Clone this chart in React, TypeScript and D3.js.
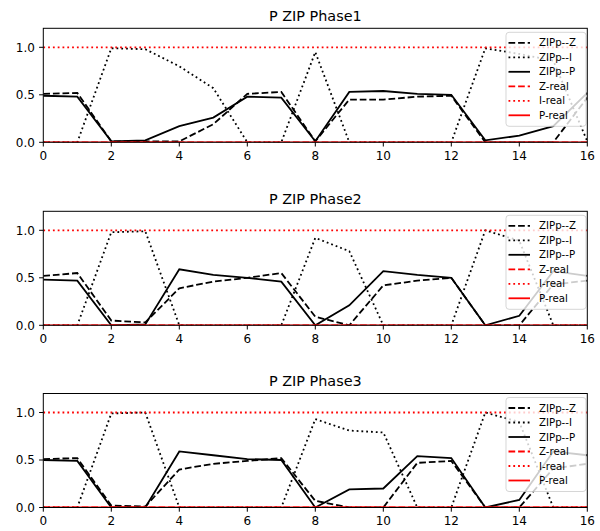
import * as d3 from "d3";

const steps = [0, 1, 2, 3, 4, 5, 6, 7, 8, 9, 10, 11, 12, 13, 14, 15, 16];
const xTicks = [0, 2, 4, 6, 8, 10, 12, 14, 16];
const yTicks = [0, 0.5, 1.0];
const titles = ["P ZIP Phase1", "P ZIP Phase2", "P ZIP Phase3"];
const legendLabels = ["ZIPp--Z", "ZIPp--I", "ZIPp--P", "Z-real", "I-real", "P-real"];

// estimated ZIP parameters per phase
const phase1Z = [0.51, 0.52, 0.01, 0.01, 0.01, 0.19, 0.51, 0.53, 0.01, 0.45, 0.45, 0.48, 0.49, 0.0, 0.0, 0.0, 0.47];
const phase1I = [0.0, 0.0, 0.99, 0.98, 0.8, 0.57, 0.0, 0.0, 0.95, 0.0, 0.0, 0.0, 0.0, 0.99, 0.93, 0.86, 0.01];
const phase1P = [0.49, 0.48, 0.01, 0.02, 0.17, 0.26, 0.48, 0.47, 0.01, 0.53, 0.54, 0.51, 0.5, 0.02, 0.07, 0.17, 0.52];

const phase2Z = [0.52, 0.55, 0.05, 0.03, 0.39, 0.46, 0.5, 0.55, 0.09, 0.0, 0.42, 0.47, 0.5, 0.0, 0.0, 0.43, 0.47];
const phase2I = [0.0, 0.0, 0.98, 0.99, 0.0, 0.0, 0.0, 0.0, 0.92, 0.78, 0.0, 0.0, 0.0, 1.0, 0.89, 0.0, 0.0];
const phase2P = [0.48, 0.47, 0.0, 0.01, 0.59, 0.53, 0.5, 0.46, 0.0, 0.21, 0.57, 0.53, 0.5, 0.0, 0.1, 0.57, 0.52];

const phase3Z = [0.51, 0.52, 0.02, 0.01, 0.4, 0.46, 0.49, 0.52, 0.07, 0.0, 0.0, 0.47, 0.49, 0.0, 0.0, 0.41, 0.46];
const phase3I = [0.0, 0.0, 0.99, 1.0, 0.0, 0.0, 0.0, 0.0, 0.93, 0.81, 0.79, 0.0, 0.0, 1.0, 0.9, 0.0, 0.0];
const phase3P = [0.5, 0.49, 0.0, 0.0, 0.59, 0.55, 0.51, 0.5, 0.0, 0.19, 0.2, 0.54, 0.52, 0.0, 0.08, 0.59, 0.55];

const realZ = [0, 0, 0, 0, 0, 0, 0, 0, 0, 0, 0, 0, 0, 0, 0, 0, 0];
const realI = [1, 1, 1, 1, 1, 1, 1, 1, 1, 1, 1, 1, 1, 1, 1, 1, 1];
const realP = [0, 0, 0, 0, 0, 0, 0, 0, 0, 0, 0, 0, 0, 0, 0, 0, 0];

const phases = [
  [phase1Z, phase1I, phase1P],
  [phase2Z, phase2I, phase2P],
  [phase3Z, phase3I, phase3P],
];

const LW = 1.8;
const DASH = "6.7,2.9";
const DOT = "1.8,3";
const styles = [
  { stroke: "#000", dash: DASH },
  { stroke: "#000", dash: DOT },
  { stroke: "#000", dash: null },
  { stroke: "#ff0000", dash: DASH },
  { stroke: "#ff0000", dash: DOT },
  { stroke: "#ff0000", dash: null },
];

const W = 600;
const H = 531;
const LEFT = 43.3;
const RIGHT = 587.3;
const TOPS = [28.3, 211.3, 393.5];
const PH = 114;
const FONT = "DejaVu Sans, sans-serif";

const Panel = ({ top, title, series }) => {
  const x = d3.scaleLinear().domain([0, 16]).range([LEFT, RIGHT]);
  const y = d3.scaleLinear().domain([0, 1.2]).range([top + PH, top]);
  const line = d3
    .line<number>()
    .x((_, i) => x(steps[i]))
    .y((d) => y(d));
  const all = [...series, realZ, realI, realP];
  const lx = 506;
  const ly = top + 4;
  return (
    <g>
      <text x={(LEFT + RIGHT) / 2} y={top - 7.5} textAnchor="middle" fontSize={14.4} fontFamily={FONT}>
        {title}
      </text>
      <defs>
        <clipPath id={"clip" + top}>
          <rect x={LEFT} y={top} width={RIGHT - LEFT} height={PH} />
        </clipPath>
      </defs>
      <g clipPath={`url(#clip${top})`}>
        {all.map((s, i) => (
          <path
            key={i}
            d={line(s)}
            fill="none"
            stroke={styles[i].stroke}
            strokeWidth={LW}
            strokeDasharray={styles[i].dash || undefined}
          />
        ))}
      </g>
      {/* legend */}
      <rect x={lx} y={ly} width={80} height={94} rx={3} fill="#fff" fillOpacity={0.8} stroke="#ccc" strokeOpacity={0.8} />
      {legendLabels.map((lab, i) => {
        const cy = ly + 10.5 + i * 14.5;
        return (
          <g key={lab}>
            <line x1={508.5} x2={530} y1={cy} y2={cy} stroke={styles[i].stroke} strokeWidth={LW} strokeDasharray={styles[i].dash || undefined} />
            <text x={539} y={cy} dy="0.36em" fontSize={10.2} fontFamily={FONT}>
              {lab}
            </text>
          </g>
        );
      })}
      {/* frame */}
      <rect x={LEFT} y={top} width={RIGHT - LEFT} height={PH} fill="none" stroke="#000" strokeWidth={1} />
      {xTicks.map((t) => (
        <g key={t}>
          <line x1={x(t)} x2={x(t)} y1={top + PH} y2={top + PH + 4.2} stroke="#000" strokeWidth={1} />
          <text x={x(t)} y={top + PH + 8.4} dy="0.76em" textAnchor="middle" fontSize={12} fontFamily={FONT}>
            {t}
          </text>
        </g>
      ))}
      {yTicks.map((t) => (
        <g key={t}>
          <line x1={LEFT - 4.2} x2={LEFT} y1={y(t)} y2={y(t)} stroke="#000" strokeWidth={1} />
          <text x={LEFT - 8.4} y={y(t)} dy="0.36em" textAnchor="end" fontSize={12} fontFamily={FONT}>
            {t.toFixed(1)}
          </text>
        </g>
      ))}
    </g>
  );
};

export default function App() {
  return (
    <svg width={W} height={H} style={{ position: "absolute", left: 0, top: 0 }}>
      <rect width={W} height={H} fill="#fff" />
      {phases.map((series, i) => (
        <Panel key={i} top={TOPS[i]} title={titles[i]} series={series} />
      ))}
    </svg>
  );
}
